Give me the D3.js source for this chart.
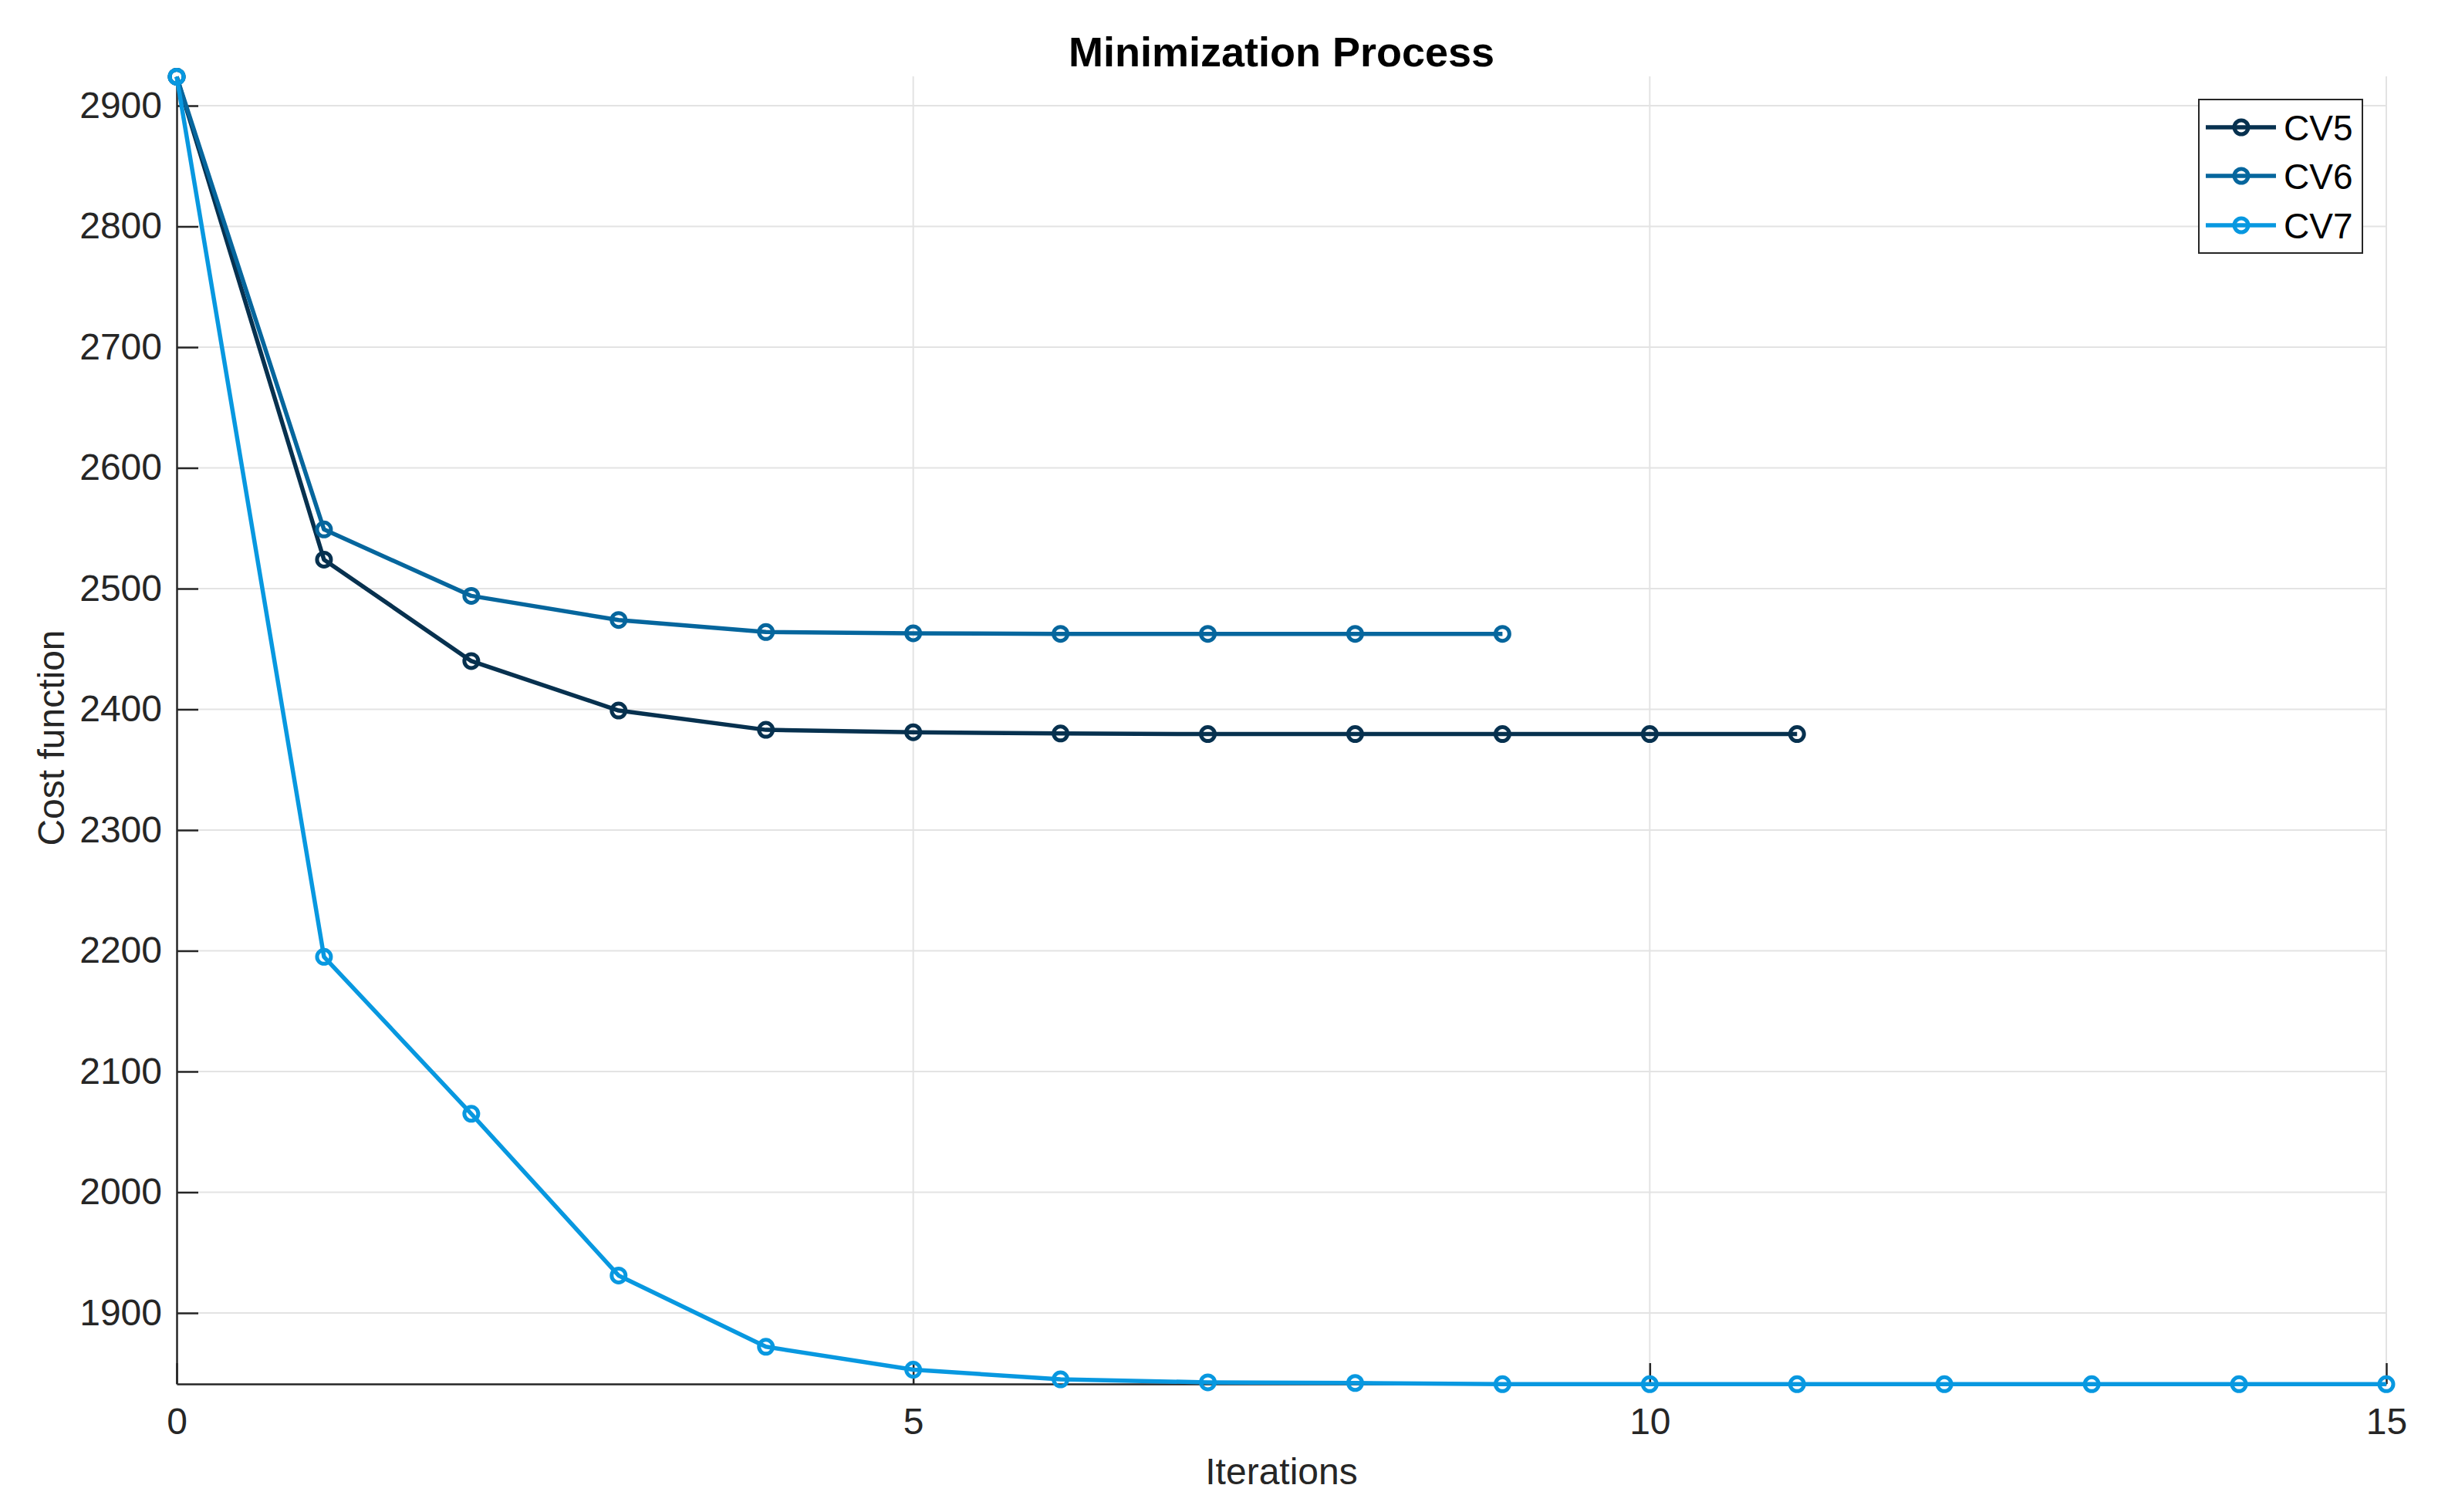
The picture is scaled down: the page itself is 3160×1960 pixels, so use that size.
<!DOCTYPE html>
<html>
<head>
<meta charset="utf-8">
<script src="https://cdn.jsdelivr.net/npm/d3@7"></script>
<style>
html,body{margin:0;padding:0;background:#fff;}
svg{display:block;font-family:"Liberation Sans",Arial,sans-serif;}
</style>
</head>
<body>
<svg id="chart" width="3160" height="1960"></svg>
<script>
// ---- data ----
const seriesNames = ["CV5", "CV6", "CV7"];
const cv5 = [2924, 2524, 2440, 2399, 2383, 2381, 2380, 2379.5, 2379.5, 2379.5, 2379.5, 2379.5];
const cv6 = [2924, 2549, 2494, 2474, 2464, 2463, 2462.5, 2462.5, 2462.5, 2462.5];
const cv7 = [2924, 2195, 2065, 1931, 1872, 1853, 1845, 1842.5, 1842, 1841, 1841, 1841, 1841, 1841, 1841, 1841];
const xTicks = [0, 5, 10, 15];
const yTicks = [1900, 2000, 2100, 2200, 2300, 2400, 2500, 2600, 2700, 2800, 2900];
const colors = ["#07314f", "#06669d", "#0898e0"];

(function () {
const svg = d3.select("#chart");
const pLeft = 229, pRight = 3093, pTop = 99, pBottom = 1794;
const x = d3.scaleLinear().domain([0, 15]).range([pLeft, pRight]);
const y = d3.scaleLinear().domain([1841.2, 2924.3]).range([pBottom, pTop]);

const axisColor = "#262626";
const gridColor = "#e3e3e3";

// grid
const g = svg.append("g");
g.selectAll(".hg").data(yTicks).enter().append("line")
  .attr("x1", pLeft).attr("x2", pRight)
  .attr("y1", d => y(d)).attr("y2", d => y(d))
  .attr("stroke", gridColor).attr("stroke-width", 2);
g.selectAll(".vg").data(xTicks.filter(d => d > 0)).enter().append("line")
  .attr("x1", d => x(d)).attr("x2", d => x(d))
  .attr("y1", pTop).attr("y2", pBottom)
  .attr("stroke", gridColor).attr("stroke-width", 2);

// axes
const yAxis = d3.axisLeft(y).tickValues(yTicks).tickFormat(d3.format("d"))
  .tickSizeInner(-28).tickSizeOuter(0).tickPadding(19);
const xAxis = d3.axisBottom(x).tickValues(xTicks).tickFormat(d3.format("d"))
  .tickSizeInner(-27).tickSizeOuter(0).tickPadding(31);

const ya = svg.append("g").attr("transform", `translate(${pLeft},0)`).call(yAxis);
const xa = svg.append("g").attr("transform", `translate(0,${pBottom})`).call(xAxis);
[ya, xa].forEach(a => {
  a.select(".domain").attr("stroke", axisColor).attr("stroke-width", 2.5);
  a.selectAll(".tick line").attr("stroke", axisColor).attr("stroke-width", 2.5);
  a.selectAll(".tick text").attr("fill", axisColor).attr("font-size", 48)
    .attr("font-family", "'Liberation Sans', Arial, sans-serif");
});

// lines
const allSeries = [cv5, cv6, cv7];
const line = d3.line().x((d, i) => x(i)).y(d => y(d));
allSeries.forEach((s, k) => {
  svg.append("path").datum(s).attr("d", line)
    .attr("fill", "none").attr("stroke", colors[k]).attr("stroke-width", 5.5)
    .attr("stroke-linejoin", "round");
  svg.selectAll(".m" + k).data(s).enter().append("circle")
    .attr("class", "m" + k)
    .attr("cx", (d, i) => x(i)).attr("cy", d => y(d)).attr("r", 9)
    .attr("fill", "none").attr("stroke", colors[k]).attr("stroke-width", 5);
});

// title & labels
svg.append("text").attr("x", (pLeft + pRight) / 2).attr("y", 86)
  .attr("text-anchor", "middle").attr("font-size", 54).attr("font-weight", "bold")
  .attr("fill", "#000").text("Minimization Process");
svg.append("text").attr("x", (pLeft + pRight) / 2).attr("y", 1924)
  .attr("text-anchor", "middle").attr("font-size", 48).attr("fill", axisColor).text("Iterations");
svg.append("text").attr("transform", `translate(83,${(pTop + pBottom) / 2 + 10}) rotate(-90)`)
  .attr("text-anchor", "middle").attr("font-size", 48).attr("fill", axisColor).text("Cost function");

// legend
const lg = svg.append("g");
lg.append("rect").attr("x", 2850).attr("y", 129).attr("width", 212).attr("height", 199)
  .attr("fill", "#fff").attr("stroke", axisColor).attr("stroke-width", 2);
const rowY = [165, 228, 292];
seriesNames.forEach((n, k) => {
  lg.append("line").attr("x1", 2859).attr("x2", 2950).attr("y1", rowY[k]).attr("y2", rowY[k])
    .attr("stroke", colors[k]).attr("stroke-width", 5.5);
  lg.append("circle").attr("cx", 2905).attr("cy", rowY[k]).attr("r", 9)
    .attr("fill", "none").attr("stroke", colors[k]).attr("stroke-width", 5);
  lg.append("text").attr("x", 2960).attr("y", rowY[k] + 17).attr("font-size", 46)
    .attr("fill", "#000").text(n);
});
})();
</script>
</body>
</html>
